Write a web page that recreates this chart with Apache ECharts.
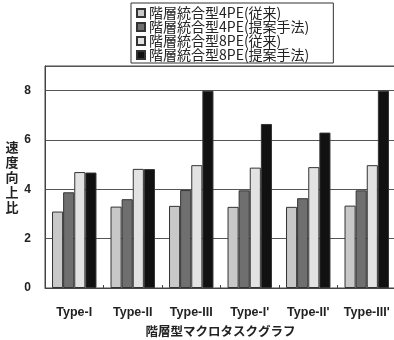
<!DOCTYPE html>
<html>
<head>
<meta charset="utf-8">
<script src="https://cdn.jsdelivr.net/npm/echarts@6/dist/echarts.min.js"></script>
<style>
  html, body { margin: 0; padding: 0; background: #fff; }
  #chart { width: 394px; height: 340px; }
</style>
</head>
<body>
<div id="chart"></div>
<script>
// Task-graph types on the x axis
const categories = ['Type-I', 'Type-II', 'Type-III', "Type-I'", "Type-II'", "Type-III'"];

// Speed-up ratio per configuration
const seriesNames = [
  '階層統合型4PE(従来)',
  '階層統合型4PE(提案手法)',
  '階層統合型8PE(従来)',
  '階層統合型8PE(提案手法)'
];
const pe4Conventional = [3.1, 3.3, 3.33, 3.29, 3.29, 3.34];
const pe4Proposed     = [3.88, 3.6, 3.97, 3.96, 3.64, 3.96];
const pe8Conventional = [4.7, 4.83, 4.98, 4.88, 4.9, 4.98];
const pe8Proposed     = [4.68, 4.82, 8.0, 6.65, 6.3, 8.0];

const yTicks = [0, 2, 4, 6, 8];

const fills = ['#c8c8c8', '#6f6f6f', '#e2e2e2', '#111111'];
const values = [pe4Conventional, pe4Proposed, pe8Conventional, pe8Proposed];

const font = '"Noto Sans CJK JP", "Noto Sans", sans-serif';
const latin = '"Liberation Sans", Arial, sans-serif';

const chart = echarts.init(document.getElementById('chart'), null, { renderer: 'canvas' });

chart.setOption({
  animation: false,
  backgroundColor: '#ffffff',
  textStyle: { fontFamily: font },
  grid: {
    left: 45, right: -2, top: 66, bottom: 52,
    outerBoundsMode: 'none',
    containLabel: false,
    show: true, borderColor: '#444', borderWidth: 1, backgroundColor: 'transparent'
  },
  legend: {
    orient: 'vertical',
    left: 131, top: 3,
    padding: [3, 24, 1, 5],
    itemGap: 0,
    itemWidth: 8, itemHeight: 8,
    icon: 'rect',
    borderColor: '#333', borderWidth: 1,
    backgroundColor: '#fff',
    data: seriesNames,
    textStyle: { fontFamily: font, fontSize: 14, lineHeight: 14, color: '#222', padding: [0, 0, 0, -1] }
  },
  xAxis: {
    type: 'category',
    data: categories,
    name: '階層型マクロタスクグラフ',
    nameLocation: 'middle',
    nameGap: 37,
    nameTextStyle: { fontFamily: font, fontSize: 12.5, fontWeight: 'bold', color: '#222' },
    axisLine: { lineStyle: { color: '#444', width: 1 } },
    axisTick: { show: true, inside: true, length: 3, lineStyle: { color: '#444' } },
    axisLabel: { interval: 0, margin: 18, fontFamily: latin, fontSize: 12.5, fontWeight: 'bold', color: '#222' }
  },
  yAxis: {
    type: 'value',
    min: 0, max: 9, interval: 2,
    name: '速\n度\n向\n上\n比',
    nameLocation: 'middle',
    nameRotate: 0,
    nameGap: 24,
    nameTextStyle: { fontFamily: font, fontSize: 13, fontWeight: 'bold', lineHeight: 15, color: '#222', padding: [8, 0, 0, 0] },
    axisLine: { show: true, lineStyle: { color: '#444' } },
    axisTick: { show: false },
    splitLine: { lineStyle: { color: '#555', width: 1 } },
    axisLabel: {
      margin: 14, fontFamily: latin, fontSize: 12, fontWeight: 'bold', color: '#222',
      formatter: v => (yTicks.indexOf(v) >= 0 ? String(v) : '')
    }
  },
  series: seriesNames.map((name, i) => ({
    name,
    type: 'bar',
    data: values[i],
    barGap: '0%',
    barCategoryGap: '24%',
    itemStyle: { color: fills[i], borderColor: '#333', borderWidth: 1 }
  }))
});
</script>
</body>
</html>
